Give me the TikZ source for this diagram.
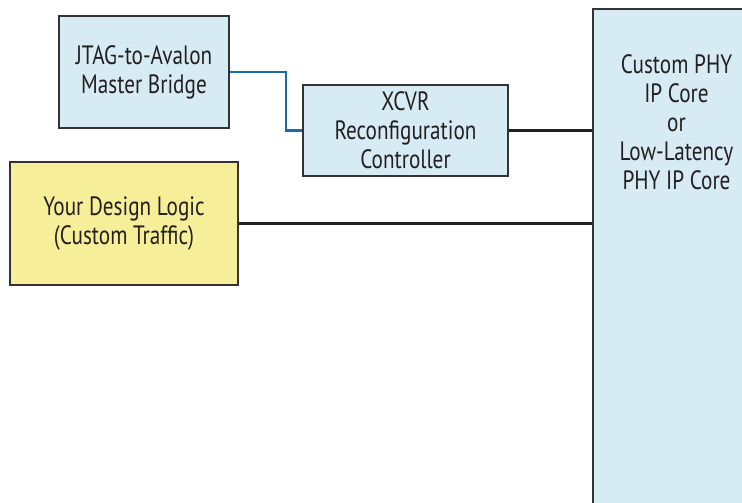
\documentclass[tikz,border=0pt]{standalone}
\usepackage{fontspec}
\setmainfont[FakeStretch=0.8]{PT Sans}
\usetikzlibrary{positioning, calc}
\definecolor{figink}{HTML}{231F20}
\definecolor{figedge}{HTML}{333333}
\definecolor{figblue}{HTML}{D7EBF4}
\definecolor{figyellow}{HTML}{F7EE9A}
\definecolor{figbus}{HTML}{1A6CA3}

\begin{document}
\begin{tikzpicture}[
  x=1pt, y=1pt,
  line width=1.5pt, line join=miter,
  blk/.style = {draw=figedge, line width=1.5pt, fill=figblue,
                inner sep=2pt, anchor=center, align=center,
                font=\fontsize{26.5}{29}\selectfont, text=figink},
  usr/.style = {blk, fill=figyellow},
  wire/.style = {draw=figink, line width=2.4pt},
  bus/.style = {draw=figbus, line width=2.4pt}
]
\clip (0,0) rectangle (742,503);
\fill[white] (0,0) rectangle (742,503);

\node[blk, minimum width=170, minimum height=112] (jtag) at (144,431)
  {JTAG-to-Avalon\\Master Bridge};
\node[blk, minimum width=205, minimum height=91] (xcvr) at (405.5,372.5)
  {XCVR\\Reconfiguration\\Controller};
\node[usr, minimum width=228, minimum height=123] (logic) at (124,279.5)
  {Your Design Logic\\(Custom Traffic)};
\node[blk, minimum width=167, minimum height=511, inner sep=0pt,
      label={[blk, draw=none, fill=none, anchor=north, yshift=-44]north:{Custom PHY\\IP Core\\or\\Low-Latency\\PHY IP Core}}]
  (phy) at (676.5,238.5) {};

% links
\draw[bus] (jtag.east) -- ++(56,0) |- (xcvr.west);
\draw[wire] (xcvr.east) -- (xcvr.east -| phy.west);
\draw[wire] (logic.east) -- (logic.east -| phy.west);

\end{tikzpicture}
\end{document}
